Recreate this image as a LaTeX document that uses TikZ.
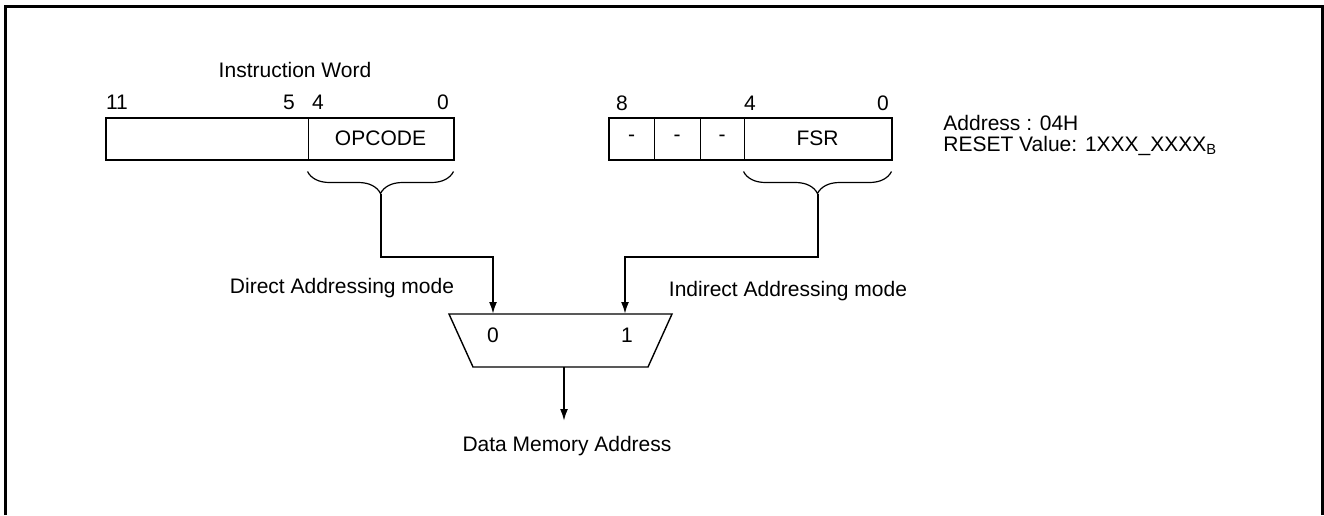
\documentclass[tikz,border=0pt]{standalone}
\usepackage{xcolor}
\usepackage{fontspec}
\setmainfont{Liberation Sans}
\usepackage{tikz}
\usetikzlibrary{arrows.meta,decorations.pathreplacing}

\begin{document}
\begin{tikzpicture}[x=0.5pt, y=-0.5pt,
    font=\fontsize{10.5pt}{12.6pt}\selectfont,
    >={Latex[length=6pt,width=4pt]},
    field/.style={draw, line width=0.5pt, minimum height=20.5pt, inner sep=0pt},
    lbl/.style={inner sep=0pt},
    link/.style={->, line width=1pt},
    brc/.style={decorate, decoration={brace, amplitude=11pt}, line width=0.6pt}]
    \useasboundingbox (0,0) rectangle (1324,515);
    \draw[line width=1.5pt] (5,515) -- (5,6) -- (1322,6) -- (1322,515);

    \node[lbl] (iw) at (295,70) {Instruction Word};
    \node[lbl] (b11) at (117,102) {11};
    \node[lbl] (b5) at (289,102) {5};
    \node[lbl] (b4) at (318,102) {4};
    \node[lbl] (b0) at (443,102) {0};
    \node[field, minimum width=101pt] (upper) at (207,138.5) {};
    \node[field, minimum width=72.5pt] (opcode) at (380.5,138.5) {OPCODE};
    \draw[line width=1pt] (upper.north west) rectangle (opcode.south east);

    \node[lbl] (f8) at (622,103) {8};
    \node[lbl] (f4) at (750,103) {4};
    \node[lbl] (f0) at (883,103) {0};
    \node[field, minimum width=22.5pt] (d8) at (631.5,138.5) {-};
    \node[field, minimum width=23pt] (d7) at (677,138.5) {-};
    \node[field, minimum width=22pt] (d6) at (722,138.5) {-};
    \node[field, minimum width=73.5pt] (fsr) at (817.5,138.5) {FSR};
    \draw[line width=1pt] (d8.north west) rectangle (fsr.south east);

    \node[lbl, anchor=base west] (addr) at (943,130.5) {Address : 04H};
    \node[lbl, anchor=base west] (rst) at (943,151.5) {RESET Value: 1XXX\_XXXX\textsubscript{B}};

    \draw[brc] ([yshift=-6pt]opcode.south east) -- ([yshift=-6pt]opcode.south west);
    \draw[brc] ([yshift=-6pt]fsr.south east) -- ([yshift=-6pt]fsr.south west);
    \coordinate (optip) at ([yshift=-17pt]opcode.south);
    \coordinate (fsrtip) at ([yshift=-17pt]fsr.south);

    \draw[line width=0.7pt] (449,314) -- (672,314) -- (648,367) -- (473,367) -- cycle;
    \coordinate (in0) at (493,314);
    \coordinate (in1) at (625,314);
    \coordinate (muxout) at (564,367);
    \node[lbl] (sel0) at (493,335) {0};
    \node[lbl] (sel1) at (627,335) {1};

    \node[lbl] (direct) at (342,288) {Direct Addressing mode};
    \node[lbl] (indirect) at (788,291) {Indirect Addressing mode};
    \node[lbl] (dma) at (567,446) {Data Memory Address};
    \coordinate (dmaend) at (564,421);

    \draw[link] (optip) -- ++(0,63) -| (in0);
    \draw[link] (fsrtip) -- ++(0,63) -| (in1);
    \draw[link] (muxout) -- (dmaend);
\end{tikzpicture}
\end{document}
